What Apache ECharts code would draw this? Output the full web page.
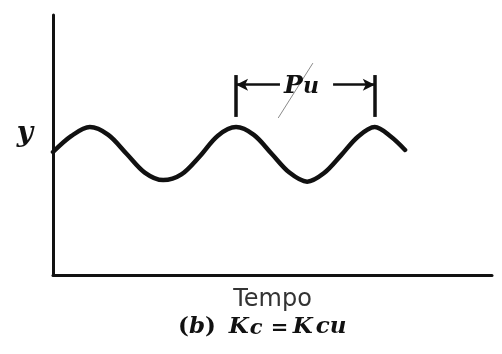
<!DOCTYPE html>
<html>
<head>
<meta charset="utf-8">
<script src="https://cdn.jsdelivr.net/npm/echarts@6/dist/echarts.min.js"></script>
<style>
  html, body { margin: 0; padding: 0; background: #ffffff; }
  #chart { width: 502px; height: 354px; }
</style>
</head>
<body>
<div id="chart"></div>
<script>
// Sustained oscillation of the controlled variable y over time (Kc = Kcu)
const timeValues = [0, 4.2, 8.4, 12.6, 16.75, 20.9, 25.1, 29.25, 33.4, 37.55, 41.7,
                    45.75, 49.8, 53.85, 57.9, 61.75, 65.6, 69.45, 73.3, 77.0, 80.2];
const yValues    = [47.3, 53.5, 56.9, 53.9, 46.65, 39.4, 36.5, 38.7, 45.6, 53.6, 56.9,
                    53.9, 46.65, 39.4, 35.9, 39.2, 46.0, 53.2, 56.9, 53.2, 48.1];

// Ultimate period Pu: between two successive peaks
const periodPeaks = [41.7, 73.3];
const bracketLow = 60.8;
const bracketHigh = 76.9;
const arrowLevel = 73.2;
const arrowGapEnds = [51.7, 63.8];

const axisTitleX = 'Tempo';
const axisTitleY = 'y';

const serif = 'DejaVu Serif';
const curve = timeValues.map((t, i) => [t, yValues[i]]);

const chart = echarts.init(document.getElementById('chart'), null, { renderer: 'canvas' });

const bold = { fontFamily: serif, fontWeight: 'bold', color: '#111', lineHeight: 28, verticalAlign: 'bottom', align: 'left' };
const boldItalic = Object.assign({}, bold, { fontStyle: 'italic' });

chart.setOption({
  backgroundColor: '#ffffff',
  animation: false,
  title: {
    text: '{a|(}{ai|b}{a|)}{gap|}{k1|K}{s1|c}{eq|=}{k2|K}{s2|cu}',
    left: 178,
    textAlign: 'left',
    top: 311,
    padding: 0,
    textStyle: {
      rich: {
        a:   Object.assign({}, bold, { fontSize: 23 }),
        ai:  Object.assign({}, boldItalic, { fontSize: 23 }),
        gap: Object.assign({}, bold, { fontSize: 23, width: 13 }),
        k1:  Object.assign({}, boldItalic, { fontSize: 23, width: 21 }),
        s1:  Object.assign({}, boldItalic, { fontSize: 21, lineHeight: 16, width: 21 }),
        eq:  Object.assign({}, bold, { fontSize: 21, width: 22 }),
        k2:  Object.assign({}, boldItalic, { fontSize: 23, width: 23 }),
        s2:  Object.assign({}, boldItalic, { fontSize: 23, lineHeight: 16 })
      }
    }
  },
  grid: { left: 53, right: 10, top: 15, bottom: 79, containLabel: false },
  xAxis: {
    type: 'value', min: 0, max: 100,
    name: axisTitleX, nameLocation: 'middle', nameGap: 13,
    nameTextStyle: { fontFamily: 'DejaVu Sans', fontSize: 24, color: '#333' },
    axisLine: { show: true, lineStyle: { color: '#111', width: 3 } },
    axisTick: { show: false }, axisLabel: { show: false }, splitLine: { show: false }
  },
  yAxis: {
    type: 'value', min: 0, max: 100,
    name: axisTitleY, nameLocation: 'middle', nameRotate: 0, nameGap: 20,
    nameTextStyle: { fontFamily: serif, fontWeight: 'bold', fontStyle: 'italic', fontSize: 28, lineHeight: 22, color: '#111', verticalAlign: 'bottom' },
    axisLine: { show: true, onZero: false, lineStyle: { color: '#111', width: 3 } },
    axisTick: { show: false }, axisLabel: { show: false }, splitLine: { show: false }
  },
  series: [{
    type: 'line',
    data: curve,
    smooth: 0.33,
    showSymbol: false,
    silent: true,
    lineStyle: { color: '#111', width: 4.5, cap: 'round' },
    markLine: {
      silent: true,
      animation: false,
      symbol: 'none',
      label: { show: false },
      emphasis: { disabled: true },
      lineStyle: { type: 'solid', color: '#111', width: 3.5 },
      data: [
        // end bars of the period bracket
        [{ coord: [periodPeaks[0], bracketLow] }, { coord: [periodPeaks[0], bracketHigh] }],
        [{ coord: [periodPeaks[1], bracketLow] }, { coord: [periodPeaks[1], bracketHigh] }],
        // arrows towards the bars
        [{ coord: [periodPeaks[0], arrowLevel], symbol: 'arrow', symbolSize: [9, 12], lineStyle: { width: 2.5 } },
         { coord: [arrowGapEnds[0], arrowLevel], symbol: 'none' }],
        [{ coord: [arrowGapEnds[1], arrowLevel], symbol: 'none', lineStyle: { width: 2.5 } },
         { coord: [periodPeaks[1], arrowLevel], symbol: 'arrow', symbolSize: [9, 12] }],
        // thin slash across the label
        [{ coord: [51.3, 60.4], lineStyle: { width: 1, color: '#8a8a8a' } }, { coord: [59.2, 81.5] }]
      ]
    },
    markPoint: {
      silent: true,
      symbol: 'circle',
      symbolSize: 0,
      data: [{
        coord: [56.6, arrowLevel],
        label: {
          show: true,
          position: 'inside',
          formatter: '{p|P}{u|u}',
          rich: {
            p: { fontFamily: serif, fontWeight: 'bold', fontStyle: 'italic', fontSize: 25, color: '#111', lineHeight: 28, verticalAlign: 'bottom' },
            u: { fontFamily: serif, fontWeight: 'bold', fontStyle: 'italic', fontSize: 22, color: '#111', lineHeight: 12, verticalAlign: 'bottom' }
          }
        }
      }]
    }
  }]
});
</script>
</body>
</html>
